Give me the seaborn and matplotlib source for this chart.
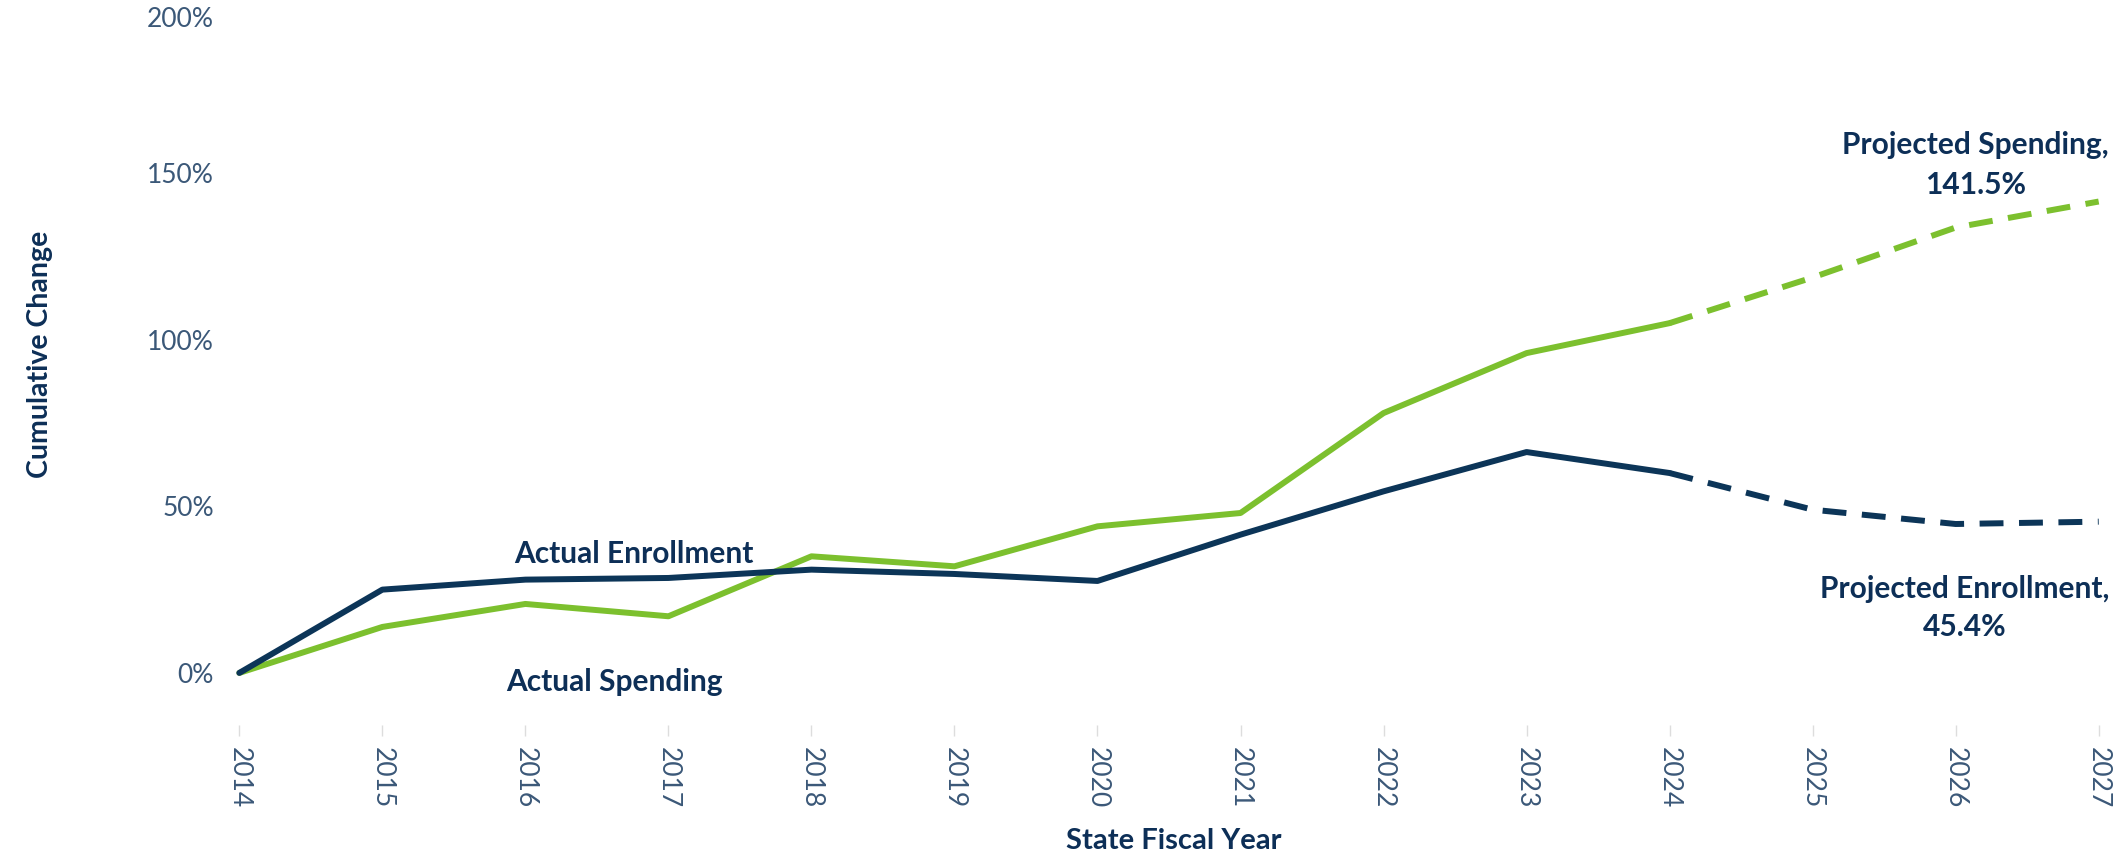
import numpy as np
import pandas as pd
import matplotlib
matplotlib.use("Agg")
import matplotlib.pyplot as plt
import seaborn as sns

# valeurs (variation cumulée en %)
years = [2014, 2015, 2016, 2017, 2018, 2019, 2020, 2021, 2022, 2023, 2024, 2025, 2026, 2027]
enrollment = [0, 25.0, 28.0, 28.5, 31.0, 29.7, 27.6, 41.5, 54.5, 66.3, 60.0, 49.0, 44.7, 45.4]
spending = [0, 13.8, 20.7, 17.0, 35.0, 32.0, 44.0, 48.0, 78.0, 96.0, 105.0, 118.7, 133.7, 141.5]
last_actual = 2024

y_ticks = [0, 50, 100, 150, 200]
y_tick_labels = ["0%", "50%", "100%", "150%", "200%"]

navy = "#0c3558"
green = "#7cc02e"
tick_color = "#3b5878"
text_color = "#0d2f57"

# table longue : segment réel / projeté
rows = []
for name, vals in [("Enrollment", enrollment), ("Spending", spending)]:
    for yr, v in zip(years, vals):
        if yr <= last_actual:
            rows.append({"year": yr, "value": v, "series": name, "kind": "Actual"})
        if yr >= last_actual:
            rows.append({"year": yr, "value": v, "series": name, "kind": "Projected"})
df = pd.DataFrame(rows)

sns.set_theme(style="white")
plt.rcParams["font.family"] = ["Lato", "DejaVu Sans"]

fig = plt.figure(figsize=(21.23, 8.65), dpi=100)
ax = fig.add_axes([0.106, 0.162, 0.894, 0.838])

sns.lineplot(data=df, x="year", y="value", hue="series", style="kind",
             palette={"Enrollment": navy, "Spending": green},
             dashes={"Actual": "", "Projected": (4, 2.6)},
             hue_order=["Spending", "Enrollment"],
             linewidth=4.3, legend=False, ax=ax, estimator=None, sort=True)

ax.set_xlim(2013.9, 2027.17)
ax.set_ylim(-15.6, 202)
sns.despine(ax=ax, left=True, bottom=True)

ax.set_xticks(years)
ax.set_xticklabels([str(y) for y in years], rotation=-90, fontsize=19, color=tick_color)
ax.tick_params(axis="x", length=8, width=1, color="#dddddd", pad=8, bottom=True)
ax.set_yticks(y_ticks)
ax.set_yticklabels(y_tick_labels, fontsize=19, color=tick_color)
ax.tick_params(axis="y", length=0, pad=8)
# le libellé du haut est décalé vers le bas pour rester dans l'image
ax.get_yticklabels()[-1].set_va("top")
ax.grid(False)

ax.set_xlabel("State Fiscal Year", fontsize=21, fontweight="bold", color=text_color, labelpad=14)
ax.set_ylabel("")
fig.text(0.019, 0.59, "Cumulative Change", rotation=90, fontsize=20.5, fontweight="bold",
         color=text_color, ha="center", va="center")

ax.text(2016.76, 35.7, "Actual Enrollment", fontsize=21.5, fontweight="bold",
        color=text_color, ha="center", va="center")
ax.text(2016.62, -2.7, "Actual Spending", fontsize=21.5, fontweight="bold",
        color=text_color, ha="center", va="center")
ax.text(2026.14, 152.5, "Projected Spending,\n141.5%", fontsize=21.5, fontweight="bold",
        color=text_color, ha="center", va="center", linespacing=1.5)
ax.text(2026.06, 19.5, "Projected Enrollment,\n45.4%", fontsize=21.5, fontweight="bold",
        color=text_color, ha="center", va="center", linespacing=1.45)

fig.savefig("out.png", dpi=100)
